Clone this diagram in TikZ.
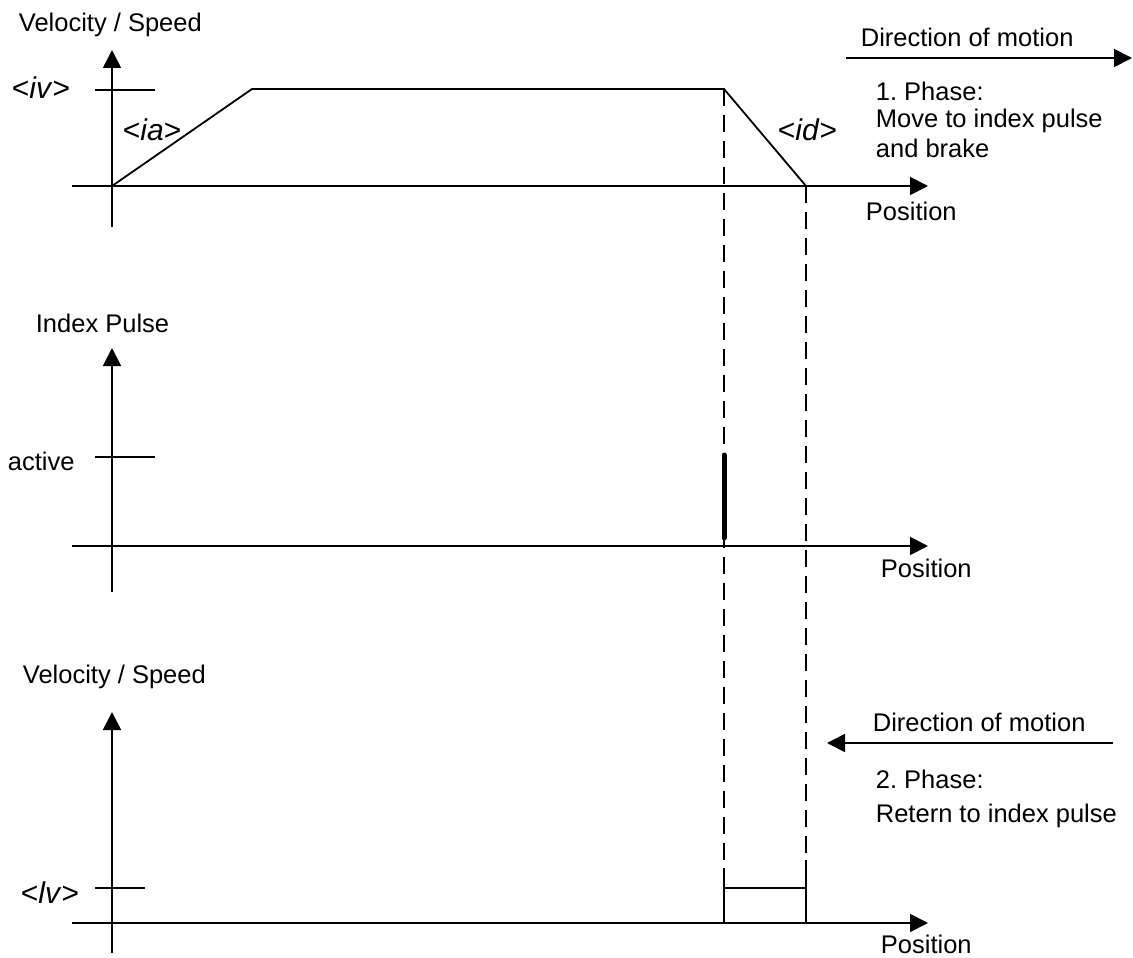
\documentclass[tikz,border=0pt]{standalone}
\usepackage{fontspec}
\setmainfont{Liberation Sans}
\usetikzlibrary{arrows.meta}
\frenchspacing
\begin{document}
\begin{tikzpicture}[x=1pt,y=-1pt,
  line width=1.8pt,
  axis/.style={-{Triangle[length=18pt,width=18pt]}},
  guide/.style={dash pattern=on 17pt off 9pt},
  pulse/.style={line width=5pt,line cap=round},
  lbl/.style={anchor=base west,inner sep=0pt,font=\fontsize{25.5}{30}\selectfont},
  sym/.style={anchor=base west,inner sep=0pt,font=\fontsize{30}{34}\selectfont}]
\useasboundingbox (0,0) rectangle (1133,958);

% ---- velocity profile, phase 1 ----
\coordinate (v1o) at (112,186);
\coordinate (v1yb) at (112,227);
\coordinate (v1yt) at (112,50);
\coordinate (v1xl) at (72,186);
\coordinate (v1xr) at (928,186);
\coordinate (ivl) at (95,90);
\coordinate (ivr) at (155,90);
\coordinate (acc) at (252,89);
\coordinate (dec) at (724,89);
\coordinate (stop) at (806,186);
\draw[axis] (v1yb) -- (v1yt);
\draw[axis] (v1xl) -- (v1xr);
\draw (ivl) -- (ivr);
\draw (v1o) -- (acc) -- (dec) -- (stop);
\node[lbl] (vs1) at (18,32) {Velocity / Speed};
\node[sym] (iv) at (11,99) {<\textit{iv}>};
\node[sym] (ia) at (122,140) {<\textit{ia}>};
\node[sym] (id) at (777,140) {<\textit{id}>};
\node[lbl] (pos1) at (865,220) {Position};

\coordinate (d1a) at (846,58);
\coordinate (d1b) at (1132,58);
\draw[axis] (d1a) -- (d1b);
\node[lbl] (dir1) at (860,47) {Direction of motion};
\node[lbl] (ph1a) at (875,100) {1. Phase:};
\node[lbl] (ph1b) at (875,127) {Move to index pulse};
\node[lbl] (ph1c) at (875,157) {and brake};

% ---- index pulse ----
\coordinate (ipyb) at (112,592);
\coordinate (ipyt) at (112,348);
\coordinate (ipxl) at (72,546);
\coordinate (ipxr) at (928,546);
\coordinate (actl) at (95,457);
\coordinate (actr) at (155,457);
\coordinate (pb) at (724,538);
\coordinate (pt) at (724,455);
\draw[axis] (ipyb) -- (ipyt);
\draw[axis] (ipxl) -- (ipxr);
\draw (actl) -- (actr);
\draw[pulse] (pb) -- (pt);
\node[lbl] (ipl) at (35,332) {Index Pulse};
\node[lbl] (act) at (7,470) {active};
\node[lbl] (pos2) at (880,577) {Position};

% ---- velocity profile, phase 2 ----
\coordinate (v2yb) at (112,953);
\coordinate (v2yt) at (112,712);
\coordinate (v2xl) at (72,923);
\coordinate (v2xr) at (928,923);
\coordinate (lvl) at (95,888);
\coordinate (lvr) at (145,888);
\coordinate (b1t) at (724,868);
\coordinate (b1b) at (724,923);
\coordinate (b2t) at (806,860);
\coordinate (b2b) at (806,923);
\coordinate (lv1) at (724,888);
\coordinate (lv2) at (806,888);
\draw[axis] (v2yb) -- (v2yt);
\draw[axis] (v2xl) -- (v2xr);
\draw (lvl) -- (lvr);
\draw (b1t) -- (b1b);
\draw (b2t) -- (b2b);
\draw (lv1) -- (lv2);
\node[lbl] (vs2) at (22,683) {Velocity / Speed};
\node[sym] (lv) at (20,903) {<\textit{lv}>};
\node[lbl] (pos3) at (880,953) {Position};

\coordinate (d2a) at (1113,743);
\coordinate (d2b) at (827,743);
\draw[axis] (d2a) -- (d2b);
\node[lbl] (dir2) at (872,731) {Direction of motion};
\node[lbl] (ph2a) at (875,788) {2. Phase:};
\node[lbl] (ph2b) at (875,822) {Retern to index pulse};

% ---- dashed guides linking the three plots ----
\draw[guide] (dec) -- (b1t);
\draw[guide] (stop) -- (b2t);
\end{tikzpicture}
\end{document}
